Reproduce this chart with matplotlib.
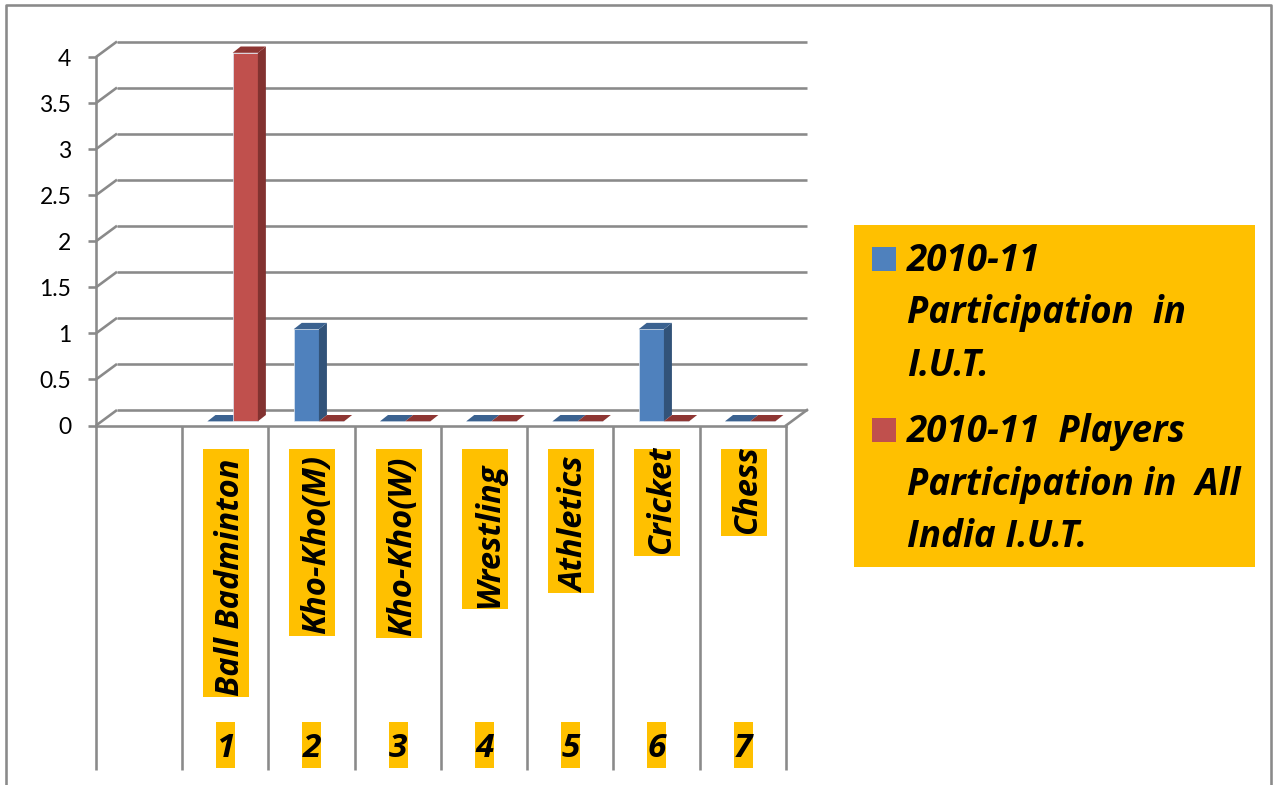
import matplotlib
matplotlib.use("Agg")
import matplotlib.pyplot as plt
from matplotlib.patches import Rectangle, Polygon
from matplotlib.lines import Line2D
from matplotlib.transforms import Affine2D

plt.rcParams['font.family'] = ['Lato', 'DejaVu Sans']
BOLD_FAMILY = ['Open Sans', 'Lato', 'DejaVu Sans']

categories = ["Ball Badminton", "Kho-Kho(M)", "Kho-Kho(W)", "Wrestling", "Athletics", "Cricket", "Chess"]
numbers = ["1", "2", "3", "4", "5", "6", "7"]
series_iut = [0, 1, 0, 0, 0, 1, 0]
series_all_india = [4, 0, 0, 0, 0, 0, 0]
yticks = [0, 0.5, 1, 1.5, 2, 2.5, 3, 3.5, 4]
ytick_labels = ["0", "0.5", "1", "1.5", "2", "2.5", "3", "3.5", "4"]
legend_first = ["2010-11", "Participation  in", "I.U.T."]
legend_second = ["2010-11  Players", "Participation in  All", "India I.U.T."]
label_box_bottoms = [697, 636, 638, 609, 593, 556, 536]

W, H = 1274, 785
GRID = '#8A8A8A'
GOLD = '#FFC000'
BLUE = ('#4F81BD', '#3B6290', '#325379')
RED = ('#C0504D', '#8E3633', '#823230')

fig = plt.figure(figsize=(W / 100, H / 100), dpi=100, facecolor='white')
L, R, T, B = 96, 786, 57, 425.5
ax = fig.add_axes([L / W, 1 - B / H, (R - L) / W, (B - T) / H])
ax.set_xlim(-0.5, 7.5)
ax.set_ylim(0, 4)
ax.patch.set_visible(False)

px_x = (R - L) / 8
px_y = (B - T) / 4
DX, DY = 21 / px_x, 15.5 / px_y          # chart depth
lw = 2.6 * 0.72

# pixel coordinates, origin top-left, for the annotations around the plot
pix = Affine2D().scale(1, -1).translate(0, H)

# axes
for s in ('top', 'right'):
    ax.spines[s].set_visible(False)
for s in ('left', 'bottom'):
    ax.spines[s].set_color(GRID)
    ax.spines[s].set_linewidth(lw)
ax.set_yticks(yticks, ytick_labels)
ax.tick_params(axis='y', length=8 * 0.72, width=lw, color=GRID, pad=12, labelsize=16.5, labelcolor='black')
edges = [i - 0.5 for i in range(9)]
ax.set_xticks(edges, [''] * 9)
ax.tick_params(axis='x', length=344 * 0.72, width=lw, color=GRID)

# back wall gridlines + side wall diagonals
for v in yticks:
    ax.plot([-0.5 + DX, 7.5 + DX], [v + DY, v + DY], color=GRID, lw=lw, clip_on=False, zorder=1, solid_capstyle='butt')
    ax.plot([-0.5, -0.5 + DX], [v, v + DY], color=GRID, lw=lw, clip_on=False, zorder=1, solid_capstyle='butt')
ax.plot([7.5, 7.5 + DX], [0, DY], color=GRID, lw=lw, clip_on=False, zorder=1)

# 3-D columns
bw = 25.2 / px_x
ddx, ddy = 8 / px_x, 6.3 / px_y
sx, sy = 7.3 / px_x, 4.2 / px_y


def column(x, v, cols, z):
    x0 = x + sx
    x1 = x0 + bw
    b = sy
    t = sy + v
    ax.bar(x0, v, width=bw, bottom=b, align='edge', color=cols[0], edgecolor='#DCE6F2', linewidth=0.5, zorder=z, clip_on=False)
    ax.add_patch(Polygon([(x1, b), (x1 + ddx, b + ddy), (x1 + ddx, t + ddy), (x1, t)],
                         closed=True, fc=cols[2], ec='none', zorder=z, clip_on=False))
    ax.add_patch(Polygon([(x0, t), (x1, t), (x1 + ddx, t + ddy), (x0 + ddx, t + ddy)],
                         closed=True, fc=cols[1], ec='none', zorder=z, clip_on=False))


for i in range(len(categories)):
    pos = i + 1
    column(pos - bw, series_iut[i], BLUE, 3)
    column(pos, series_all_india[i], RED, 4)

# category labels on gold boxes
for i, (name, num, bot) in enumerate(zip(categories, numbers, label_box_bottoms)):
    c = 225 + i * px_x
    fig.add_artist(Rectangle((c - 22, 449), 46, bot - 449, transform=pix, fc=GOLD, ec='none', zorder=5))
    fig.text(c + 14, bot - 1.5, name, transform=pix, rotation=90, rotation_mode='anchor',
             ha='left', va='baseline', fontsize=23.5, fontweight='bold', fontstyle='italic',
             family=BOLD_FAMILY, zorder=6)
    fig.add_artist(Rectangle((c - 9, 722), 19, 46, transform=pix, fc=GOLD, ec='none', zorder=5))
    fig.text(c + 0.5, 757, num, transform=pix, ha='center', va='baseline', fontsize=24,
             fontweight='bold', fontstyle='italic', family=BOLD_FAMILY, zorder=6)

# legend block
fig.add_artist(Rectangle((854, 225), 401, 342, transform=pix, fc=GOLD, ec='none', zorder=5))
fig.add_artist(Rectangle((872, 247), 24, 24, transform=pix, fc=BLUE[0], ec='none', zorder=6))
fig.add_artist(Rectangle((872, 418), 24, 24, transform=pix, fc=RED[0], ec='none', zorder=6))
for lines, y0 in ((legend_first, 271), (legend_second, 442)):
    for j, t in enumerate(lines):
        fig.text(907, y0 + j * 52.5, t, transform=pix, ha='left', va='baseline', fontsize=26.5,
                 fontweight='bold', fontstyle='italic', family=BOLD_FAMILY, zorder=6)

# outer frame (open at the bottom)
fig.add_artist(Line2D([6, 6, 1271, 1271], [785, 5, 5, 785], transform=pix, color=GRID, lw=lw, zorder=7))

fig.savefig('out.png', dpi=100, facecolor='white')
